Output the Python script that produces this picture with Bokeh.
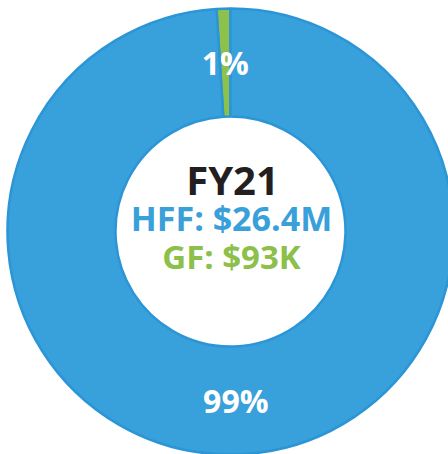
import math
from bokeh.plotting import figure
from bokeh.models import Range1d, ColumnDataSource
from bokeh.core.properties import value
from bokeh.embed import file_html
from bokeh.resources import INLINE

# Data
categories = ["GF", "HFF"]
shares = [1, 99]           # percent
labels = ["1%", "99%"]
fill_colors = ["#8DC14B", "#38A1DB"]
title_text = "FY21"
hff_text = "HFF: $26.4M"
gf_text = "GF: $93K"

W, H = 448, 454
cx, cy = 230, H - 231
r_out, r_in = 223, 115

total = sum(shares)
starts, ends, lx, ly = [], [], [], []
a = math.pi / 2
for s in shares:
    span = 2 * math.pi * s / total
    starts.append(a)
    ends.append(a + span)
    mid = a + span / 2
    rm = (r_out + r_in) / 2
    lx.append(cx + rm * math.cos(mid))
    ly.append(cy + rm * math.sin(mid))
    a += span

src = ColumnDataSource(dict(start=starts, end=ends, color=fill_colors,
                            lx=lx, ly=ly, label=labels))

p = figure(width=W, height=H, x_range=Range1d(0, W), y_range=Range1d(0, H),
           output_backend="svg", toolbar_location=None, min_border=0)
p.axis.visible = False
p.grid.visible = False
p.outline_line_color = None
p.background_fill_color = "white"

p.annular_wedge(x=cx, y=cy, inner_radius=r_in, outer_radius=r_out,
                start_angle="start", end_angle="end", fill_color="color",
                line_color="#2B95D6", line_width=2.5, source=src)

p.text(x="lx", y="ly", text="label", source=src, text_color="white",
       text_font=value("Open Sans"), text_font_style="bold",
       text_font_size="32px", text_align="center", text_baseline="middle")

p.text(x=[cx + 2], y=[H - 179], text=[title_text], text_color="#231F20",
       text_font=value("Open Sans"), text_font_style="bold",
       text_font_size="40px", text_align="center", text_baseline="middle")
p.text(x=[cx + 1], y=[H - 217], text=[hff_text], text_color="#3AA0DA",
       text_font=value("Open Sans"), text_font_style="bold",
       text_font_size="34px", text_align="center", text_baseline="middle")
p.text(x=[cx + 1], y=[H - 256], text=[gf_text], text_color="#8DC04A",
       text_font=value("Open Sans"), text_font_style="bold",
       text_font_size="33px", text_align="center", text_baseline="middle")

open("out.html", "w").write(file_html(p, INLINE))
